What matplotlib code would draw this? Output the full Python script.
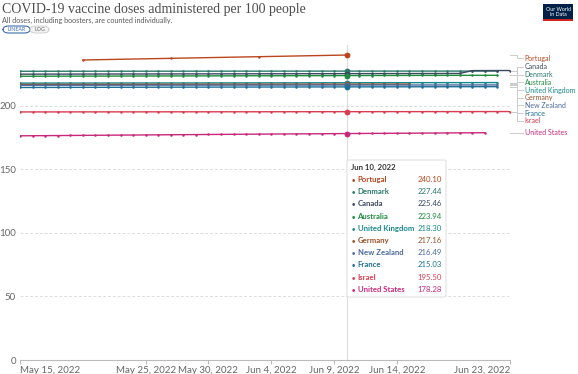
import numpy as np
import pandas as pd
import matplotlib
matplotlib.use("Agg")
import matplotlib.pyplot as plt
from matplotlib.patches import FancyBboxPatch, Rectangle

plt.rcParams['font.family'] = ['Lato', 'DejaVu Sans']

# daily values, each series starts on May 15, 2022 (Portugal is weekly)
denmark = [227.31, 227.32, 227.32, 227.33, 227.34, 227.34, 227.35, 227.35, 227.36, 227.37, 227.37, 227.38, 227.38, 227.39, 227.39, 227.40, 227.40,
           227.41, 227.41, 227.41, 227.42, 227.42, 227.42, 227.43, 227.43, 227.44, 227.44,
           227.44, 227.45, 227.45, 227.45, 227.45, 227.46, 227.46, 227.46, 227.46, 227.47, 227.47, 227.47]
canada = [225.05, 225.07, 225.08, 225.10, 225.11, 225.13, 225.14, 225.16, 225.17, 225.19, 225.20, 225.22, 225.23, 225.25, 225.26, 225.28, 225.29,
          225.31, 225.32, 225.34, 225.35, 225.37, 225.38, 225.40, 225.42, 225.44, 225.46,
          225.47, 225.49, 225.50, 225.52, 225.53, 225.55, 225.56, 225.58, 225.59, 227.85, 227.87, 227.89, 227.91]
australia = [223.40, 223.42, 223.44, 223.46, 223.48, 223.50, 223.52, 223.54, 223.56, 223.58, 223.60, 223.62, 223.64, 223.66, 223.68, 223.70, 223.72,
             223.74, 223.76, 223.78, 223.80, 223.82, 223.84, 223.86, 223.88, 223.91, 223.94,
             223.96, 223.98, 224.00, 224.02, 224.04, 224.06, 224.08, 224.10, 224.11, 224.12, 224.13, 224.14]
uk = [218.00, 218.01, 218.02, 218.03, 218.04, 218.05, 218.06, 218.08, 218.09, 218.10, 218.11, 218.12, 218.13, 218.14, 218.15, 218.16, 218.17,
      218.18, 218.19, 218.20, 218.21, 218.22, 218.23, 218.25, 218.26, 218.28, 218.30,
      218.31, 218.32, 218.33, 218.34, 218.35, 218.36, 218.37, 218.38, 218.39, 218.40, 218.41, 218.42]
germany = [216.96, 216.97, 216.98, 216.99, 217.00, 217.01, 217.02, 217.03, 217.04, 217.05, 217.06, 217.07, 217.08, 217.08, 217.09, 217.10, 217.10,
           217.11, 217.11, 217.12, 217.12, 217.13, 217.13, 217.14, 217.15, 217.15, 217.16,
           217.16, 217.17, 217.17, 217.18, 217.18]
new_zealand = [216.30, 216.31, 216.32, 216.33, 216.33, 216.34, 216.35, 216.36, 216.36, 216.37, 216.38, 216.38, 216.39, 216.40, 216.40, 216.41, 216.42,
               216.42, 216.43, 216.43, 216.44, 216.45, 216.45, 216.46, 216.47, 216.48, 216.49,
               216.49, 216.50, 216.51, 216.51, 216.52, 216.53, 216.53, 216.54, 216.55, 216.56, 216.57, 216.58]
france = [214.55, 214.57, 214.59, 214.61, 214.63, 214.65, 214.67, 214.69, 214.71, 214.73, 214.75, 214.77, 214.79, 214.81, 214.83, 214.85, 214.87,
          214.88, 214.90, 214.91, 214.93, 214.94, 214.96, 214.98, 214.99, 215.01, 215.03,
          215.04, 215.06, 215.07, 215.09, 215.10, 215.12, 215.13, 215.15, 215.16, 215.18, 215.19, 215.20]
israel = [195.30, 195.31, 195.31, 195.32, 195.33, 195.34, 195.34, 195.35, 195.36, 195.36, 195.37, 195.38, 195.38, 195.39, 195.40, 195.40, 195.41,
          195.42, 195.42, 195.43, 195.44, 195.45, 195.46, 195.47, 195.48, 195.49, 195.50,
          195.51, 195.51, 195.52, 195.53, 195.53, 195.54, 195.55, 195.55, 195.56, 195.57, 195.58, 195.59, 195.60]
united_states = [176.50, 176.57, 176.64, 176.71, 176.78, 176.85, 176.92, 176.99, 177.06, 177.13, 177.20, 177.27, 177.34, 177.41, 177.48, 177.55, 177.62,
                 177.69, 177.76, 177.83, 177.90, 177.96, 178.02, 178.08, 178.14, 178.21, 178.28,
                 178.34, 178.40, 178.46, 178.52, 178.58, 178.64, 178.70, 178.76, 178.82, 178.88, 178.94]
portugal_dates = ["2022-05-20", "2022-05-27", "2022-06-03", "2022-06-10"]
portugal = [236.2, 237.5, 238.8, 240.1]

# order as in the hover box
series = [
    ("Portugal", portugal, "#b9461f"),
    ("Denmark", denmark, "#2b7a6c"),
    ("Canada", canada, "#3c4a60"),
    ("Australia", australia, "#1e8a3e"),
    ("United Kingdom", uk, "#16898c"),
    ("Germany", germany, "#9a5129"),
    ("New Zealand", new_zealand, "#4c6a9c"),
    ("France", france, "#1d6f94"),
    ("Israel", israel, "#d73c50"),
    ("United States", united_states, "#c8287a"),
]
hover_date = pd.Timestamp("2022-06-10")
tick_dates = ["2022-05-15", "2022-05-25", "2022-05-30", "2022-06-04", "2022-06-09", "2022-06-14", "2022-06-23"]
tick_labels = ["May 15, 2022", "May 25, 2022", "May 30, 2022", "Jun 4, 2022", "Jun 9, 2022", "Jun 14, 2022", "Jun 23, 2022"]

W, H = 578, 374
fig = plt.figure(figsize=(W / 100, H / 100), dpi=100)
ax = fig.add_axes([20 / W, 14 / H, 490 / W, 315 / H])


def dates_of(name, vals):
    if name == "Portugal":
        return list(pd.to_datetime(portugal_dates))
    return list(pd.date_range("2022-05-15", periods=len(vals)))


ends = {}
for name, vals, col in series:
    d = dates_of(name, vals)
    ax.plot(d, vals, color=col, lw=1, marker="o", ms=1.8, mew=0, zorder=3)
    i = d.index(hover_date)
    ax.plot([d[i]], [vals[i]], "o", color=col, ms=4.2, mew=0, zorder=4)
    ends[name] = (vals[-1], col)

ax.axvline(hover_date, color="#dddddd", lw=0.8, zorder=1)

ax.set_xlim(pd.Timestamp("2022-05-15"), pd.Timestamp("2022-06-23"))
ax.set_ylim(0, 248)
ax.set_yticks([0, 50, 100, 150, 200])
ax.grid(axis="y", color="#dddddd", lw=0.7, ls=(0, (3, 2)))
ax.set_axisbelow(True)
for s in ["top", "right", "left"]:
    ax.spines[s].set_visible(False)
ax.spines["bottom"].set_color("#bbbbbb")
ax.spines["bottom"].set_linewidth(0.8)
ax.tick_params(axis="y", length=0, pad=3, labelsize=7, labelcolor="#666666")
ax.tick_params(axis="x", length=3, color="#bbbbbb", pad=1, labelsize=7, labelcolor="#666666")
ax.set_xticks(pd.to_datetime(tick_dates))
ax.set_xticklabels(tick_labels)
xl = ax.get_xticklabels()
xl[0].set_ha("left")
xl[-1].set_ha("right")

# end labels: push overlapping labels apart, keep them under the top limit
order = sorted(ends.items(), key=lambda kv: -kv[1][0])
step = 6.06
top_limit = 237.5
ly = [v for _, (v, _) in order]
for _ in range(500):
    for j in range(len(ly) - 1):
        gap = ly[j] - ly[j + 1]
        if gap < step:
            shift = (step - gap) / 2
            ly[j] += shift
            ly[j + 1] -= shift
    ly[0] = min(ly[0], top_limit)
    for j in range(1, len(ly)):
        ly[j] = min(ly[j], ly[j - 1] - step) if ly[j - 1] - ly[j] < step else ly[j]

tr = ax.get_yaxis_transform()
for (name, (v, col)), y in zip(order, ly):
    ax.plot([1.0, 1.014, 1.014, 1.026], [v, v, y, y], color="#cccccc", lw=0.7,
            transform=tr, clip_on=False)
    ax.text(1.030, y, name, color=col, fontsize=5.0, va="center", ha="left",
            transform=tr, clip_on=False)


def fx(px):
    return px / W


def fy(py):
    return 1 - py / H


# hover box
box = FancyBboxPatch((fx(347), fy(297)), fx(99), 137 / H, boxstyle="round,pad=0,rounding_size=0.004",
                     transform=fig.transFigure, facecolor="white", edgecolor="#e2e2e2", lw=0.8, zorder=5)
fig.patches.append(box)
fig.text(fx(351), fy(167), "Jun 10, 2022", fontsize=5.6, color="#333333", weight="bold", va="center", zorder=6)
for k, (name, vals, col) in enumerate(series):
    d = dates_of(name, vals)
    val = vals[d.index(hover_date)]
    yy = fy(179.5 + k * 12.2)
    fig.text(fx(353), yy, "●", fontsize=4, color=col, va="center", ha="center", zorder=6)
    fig.text(fx(357.5), yy, name, fontsize=5.6, color=col, weight="bold", va="center", zorder=6)
    fig.text(fx(442), yy, f"{val:.2f}", fontsize=5.6, color=col, va="center", ha="right", zorder=6)

# header
fig.text(fx(2), fy(9), "COVID-19 vaccine doses administered per 100 people", family="Liberation Serif",
         fontsize=10, color="#4d4d4d", va="center")
fig.text(fx(2), fy(20), "All doses, including boosters, are counted individually.", fontsize=5.2,
         color="#5b5b5b", va="center")
fig.patches.append(FancyBboxPatch((fx(3), fy(33)), fx(27), 7 / H, boxstyle="round,pad=0,rounding_size=0.01",
                                  transform=fig.transFigure, facecolor="white", edgecolor="#3d6cb0", lw=0.8))
fig.patches.append(FancyBboxPatch((fx(30), fy(33)), fx(19), 7 / H, boxstyle="round,pad=0,rounding_size=0.01",
                                  transform=fig.transFigure, facecolor="#f2f2f2", edgecolor="#cccccc", lw=0.6))
fig.text(fx(16.5), fy(29.5), "LINEAR", fontsize=3.8, color="#3d6cb0", ha="center", va="center")
fig.text(fx(39.5), fy(29.5), "LOG", fontsize=3.8, color="#666666", ha="center", va="center")

# logo
fig.patches.append(Rectangle((fx(543), fy(21)), fx(30), 17 / H, transform=fig.transFigure,
                             facecolor="#002147", edgecolor="none"))
fig.patches.append(Rectangle((fx(543), fy(21)), fx(30), 1.5 / H, transform=fig.transFigure,
                             facecolor="#ce261e", edgecolor="none"))
fig.text(fx(558), fy(12), "Our World\nin Data", fontsize=3.8, color="white", ha="center", va="center",
         linespacing=1.0)

fig.savefig("out.png", dpi=100)
